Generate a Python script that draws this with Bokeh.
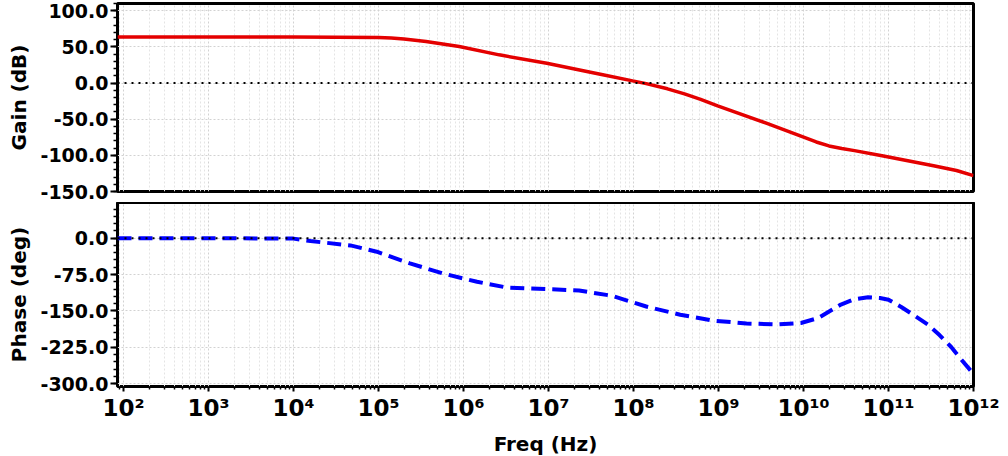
from bokeh.plotting import figure
from bokeh.layouts import column
from bokeh.models import Range1d, FixedTicker, PrintfTickFormatter, Span
from bokeh.embed import file_html
from bokeh.resources import INLINE

# ---- data ----
gain_logf = [1.93, 2.0, 3.0, 4.0, 4.5, 5.0, 5.15, 5.3, 5.56, 5.95, 6.42, 6.98, 7.48, 7.61,
             7.99, 8.15, 8.40, 8.60, 8.79, 8.99, 9.57, 9.97, 10.15, 10.30, 10.45, 10.6, 10.94, 11.53, 11.8, 12.0]
gain_db = [63.5, 63.5, 63.5, 63.5, 63.4, 63.0, 62.4, 61.0, 57.4, 50.5, 39.0, 27.3, 15.3, 12.2,
           3.0, -0.8, -8.0, -15.0, -22.5, -31.5, -55.8, -73.5, -81.5, -87.0, -90.5, -93.5, -101.0, -114.5, -121.0, -128.0]

phase_logf = [1.93, 3.0, 4.0, 4.2, 4.67, 4.98, 5.37, 5.76, 6.16, 6.51, 6.98, 7.36, 7.75, 8.15,
              8.55, 8.93, 9.33, 9.69, 9.97, 10.17, 10.44, 10.6, 10.76, 10.9, 11.0, 11.15, 11.3, 11.46, 11.6, 11.74, 11.85, 11.98, 12.0]
phase_deg = [0.0, 0.0, -1.0, -6.0, -15.0, -28.0, -52.0, -73.0, -90.0, -102.0, -105.0, -108.0, -119.0, -141.0,
             -158.0, -170.0, -176.0, -178.0, -175.0, -165.0, -137.0, -126.0, -122.0, -123.5, -127.0, -142.0, -159.0, -178.0, -200.0, -225.0, -249.0, -276.0, -282.0]

gain_ticks = [-150, -100, -50, 0, 50, 100]
phase_ticks = [-300, -225, -150, -75, 0]
decades = [2, 3, 4, 5, 6, 7, 8, 9, 10, 11, 12]
superscripts = ["²", "³", "⁴", "⁵", "⁶", "⁷", "⁸", "⁹", "¹⁰", "¹¹", "¹²"]

gain_f = [10 ** v for v in gain_logf]
phase_f = [10 ** v for v in phase_logf]

FONT = "DejaVu Sans"
x_start = 10 ** 1.93
x_end = 1e12

major_x = [10.0 ** d for d in decades]
minor_x = [k * 10.0 ** d for d in range(1, 12) for k in range(2, 10) if x_start <= k * 10.0 ** d <= x_end]


def style(p, yticks, minor_step, yfmt="%.1f"):
    p.outline_line_color = "black"
    p.outline_line_width = 3
    p.outline_line_alpha = 1.0
    p.background_fill_color = "white"
    p.border_fill_color = "white"
    yminor = []
    lo, hi = p.y_range.start, p.y_range.end
    v = yticks[0] - 10 * minor_step
    while v <= hi:
        if v >= lo:
            yminor.append(v)
        v += minor_step
    p.yaxis.ticker = FixedTicker(ticks=yticks, minor_ticks=yminor)
    p.yaxis.formatter = PrintfTickFormatter(format=yfmt)
    p.yaxis.major_label_text_font = FONT
    p.yaxis.major_label_text_font_style = "bold"
    p.yaxis.major_label_text_font_size = "19px"
    p.yaxis.major_label_text_color = "black"
    p.yaxis.axis_label_text_font = FONT
    p.yaxis.axis_label_text_font_style = "bold"
    p.yaxis.axis_label_text_font_size = "20px"
    p.yaxis.axis_label_text_color = "black"
    p.yaxis.axis_label_standoff = 7
    p.yaxis.major_label_standoff = 2
    p.yaxis.major_tick_out = 7
    p.yaxis.major_tick_in = 0
    p.yaxis.minor_tick_out = 4
    p.yaxis.minor_tick_in = 0
    p.yaxis.major_tick_line_width = 2
    p.yaxis.minor_tick_line_width = 1.5
    p.yaxis.major_tick_line_color = "black"
    p.yaxis.minor_tick_line_color = "black"
    p.yaxis.axis_line_color = None
    p.xaxis.ticker = FixedTicker(ticks=major_x, minor_ticks=minor_x)
    for g in (p.xgrid, p.ygrid):
        g.grid_line_color = "#d2d2d2"
        g.grid_line_dash = "2 2"
        g.grid_line_width = 1
        g.minor_grid_line_color = "#e4e4e4"
        g.minor_grid_line_dash = "2 2"
        g.minor_grid_line_width = 1
    p.ygrid.ticker = FixedTicker(ticks=yticks, minor_ticks=[])
    p.ygrid.minor_grid_line_color = None


# ---- gain figure ----
p1 = figure(width=1008, height=202, frame_width=856, frame_height=188,
            x_axis_type="log", x_range=Range1d(x_start, x_end), y_range=Range1d(-150, 110),
            output_backend="svg", toolbar_location=None,
            min_border_left=117, min_border_right=35, min_border_top=3, min_border_bottom=11)
style(p1, gain_ticks, 10)
p1.xaxis.visible = False
p1.yaxis.axis_label = "Gain (dB)"
p1.add_layout(Span(location=0, dimension="width", line_color="black", line_dash="2 5", line_width=2))
p1.line(gain_f, gain_db, line_color="#e40000", line_width=3.5)

# ---- phase figure ----
p2 = figure(width=1008, height=254, frame_width=856, frame_height=184,
            x_axis_type="log", x_range=p1.x_range, y_range=Range1d(-306, 73.5),
            output_backend="svg", toolbar_location=None,
            min_border_left=117, min_border_right=35, min_border_top=0, min_border_bottom=70)
style(p2, phase_ticks, 15)
p2.yaxis.axis_label = "Phase (deg)"
p2.xaxis.axis_label = "Freq (Hz)"
p2.xaxis.major_label_overrides = {int(10 ** d): "10" + s for d, s in zip(decades, superscripts)}
p2.xaxis.major_label_text_font = FONT
p2.xaxis.major_label_text_font_style = "bold"
p2.xaxis.major_label_text_font_size = "23px"
p2.xaxis.major_label_text_color = "black"
p2.xaxis.major_label_standoff = 3
p2.xaxis.axis_label_text_font = FONT
p2.xaxis.axis_label_text_font_style = "bold"
p2.xaxis.axis_label_text_font_size = "20px"
p2.xaxis.axis_label_text_color = "black"
p2.xaxis.axis_label_standoff = 8
p2.xaxis.major_tick_out = 5
p2.xaxis.major_tick_in = 0
p2.xaxis.minor_tick_out = 3
p2.xaxis.minor_tick_in = 0
p2.xaxis.major_tick_line_width = 2
p2.xaxis.minor_tick_line_width = 1.5
p2.xaxis.axis_line_color = None
p2.add_layout(Span(location=0, dimension="width", line_color="black", line_dash="2 5", line_width=2))
p2.line(phase_f, phase_deg, line_color="#0000ff", line_width=4, line_dash="14 7")

layout = column(p1, p2, spacing=0)
open("out.html", "w").write(file_html(layout, INLINE))
